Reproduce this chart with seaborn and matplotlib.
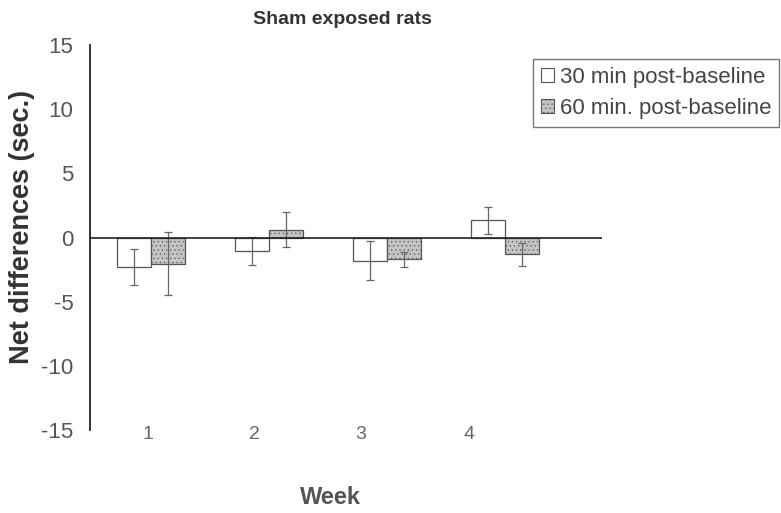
import matplotlib
matplotlib.use("Agg")
import matplotlib.pyplot as plt
import seaborn as sns
import pandas as pd
import numpy as np
from matplotlib.patches import Patch

weeks = ["1", "2", "3", "4"]
series = ["30 min post-baseline", "60 min. post-baseline"]
vals_30 = [-2.3, -1.05, -1.8, 1.35]
vals_60 = [-2.05, 0.6, -1.7, -1.3]
err_30 = [1.4, 1.1, 1.5, 1.05]
err_60 = [2.45, 1.35, 0.6, 0.9]

df = pd.DataFrame({
    "week": weeks * 2,
    "series": [series[0]] * 4 + [series[1]] * 4,
    "value": vals_30 + vals_60,
})

sns.set_theme(style="white")
plt.rcParams["font.family"] = ["Liberation Sans", "DejaVu Sans"]
plt.rcParams["hatch.color"] = "#9a9a9a"
plt.rcParams["hatch.linewidth"] = 0.4

fig = plt.figure(figsize=(7.81, 5.13), dpi=100)
ax = fig.add_axes([90 / 781, 1 - 430 / 513, (602 - 90) / 781, (430 - 45) / 513])

sns.barplot(data=df, x="week", y="value", hue="series", hue_order=series,
            palette=["#ffffff", "#c4c4c4"], width=0.576, errorbar=None,
            edgecolor="#555555", linewidth=0.9, ax=ax, legend=False)

errs = {series[0]: err_30, series[1]: err_60}
containers = ax.containers
for cont, s in zip(containers, series):
    xs = [p.get_x() + p.get_width() / 2 for p in cont.patches]
    hs = [p.get_height() for p in cont.patches]
    ax.errorbar(xs, hs, yerr=errs[s], fmt="none", ecolor="#666666",
                elinewidth=0.9, capsize=3, capthick=0.9, zorder=3)
for p in containers[1].patches:
    p.set_hatch("....")
    p.set_edgecolor("#555555")

ax.axhline(0, color="#222222", linewidth=1.2, zorder=4)

ax.set_xlim(-0.514, 3.82)
ax.set_ylim(-15, 15)
ax.set_yticks([-15, -10, -5, 0, 5, 10, 15])
ax.set_yticklabels(["-15", "-10", "-5", "0", "5", "10", "15"],
                   fontsize=16, color="#555555")
ax.tick_params(axis="y", length=0, pad=12)
ax.set_xticks([-0.02, 0.88, 1.78, 2.69])
ax.set_xticklabels(weeks, fontsize=14, color="#666666")
ax.tick_params(axis="x", length=0, pad=-3)

for side in ["top", "right", "bottom"]:
    ax.spines[side].set_visible(False)
ax.spines["left"].set_color("#222222")
ax.spines["left"].set_linewidth(1.3)

ax.set_xlabel("")
ax.set_ylabel("Net differences (sec.)", fontsize=19.5, fontweight="bold",
              color="#333333")
ax.yaxis.label.set_va("center")
ax.yaxis.set_label_coords((22 - 90) / 512, (430 - 226.5) / 385)
fig.text(330 / 781, 1 - 497 / 513, "Week", fontsize=17, fontweight="bold",
         color="#555555", ha="center", va="center")
fig.text(342 / 781, 1 - 20 / 513, "Sham exposed rats", fontsize=14,
         fontweight="bold", color="#333333", ha="center", va="center")

handles = [Patch(facecolor="#ffffff", edgecolor="#555555", linewidth=0.8),
           Patch(facecolor="#c4c4c4", edgecolor="#555555", linewidth=0.8, hatch="....")]
leg = fig.legend(handles, series, loc="upper left",
                 bbox_to_anchor=(533 / 781, 1 - 59 / 513), fontsize=16,
                 frameon=True, fancybox=False, edgecolor="#555555",
                 handlelength=0.6, handleheight=0.6, handletextpad=0.25,
                 borderpad=0.35, labelspacing=0.45, borderaxespad=0)
leg.get_frame().set_linewidth(1.0)
for t in leg.get_texts():
    t.set_color("#444444")

fig.savefig("out.png", dpi=100)
